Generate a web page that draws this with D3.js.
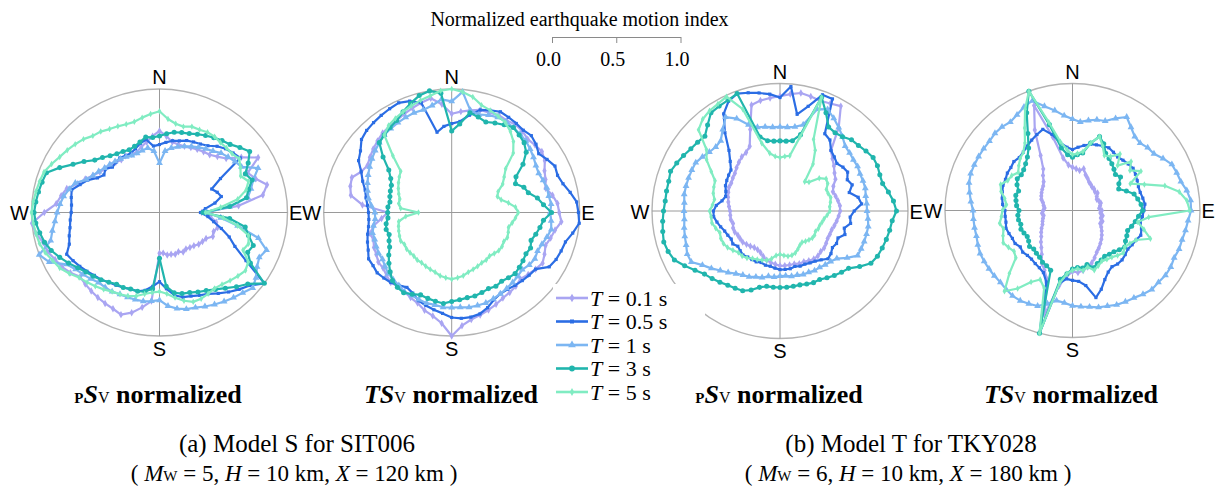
<!DOCTYPE html>
<html>
<head>
<meta charset="utf-8">
<script src="https://cdn.jsdelivr.net/npm/d3@7"></script>
<style>
  html, body { margin: 0; padding: 0; background: #fff; }
  svg { display: block; }
</style>
</head>
<body>
<svg id="chart" width="1219" height="493"></svg>
<script>
// Azimuth of every sample, degrees clockwise from north
const angleDeg = d3.range(0, 360, 5);
const periodLabels = ["0.1", "0.5", "1", "3", "5"];
const scaleTicks = [0, 0.5, 1];

// (a) Model S, SIT006 — pSV normalized
const aPsvT01 = [.66,.62,.58,.57,.57,.58,.59,.60,.61,.64,.68,.78, .89,.76,.80,.87,.82,.62,.33,.40,.45,.47,.45,.46, .42,.41,.40,.38,.37,.36,.37,.35,.36,.35,.35,.33, .33,.72,.78,.84,.88,.86,.85,.84,.83,.82,.81,.85, .88,.90,.93,.94,.98,1.0,.90,.81,.78,.75,.68,.64, .60,.57,.55,.54,.53,.52,.53,.52,.52,.55,.58,.62];
const aPsvT05 = [.55,.57,.59,.60,.62,.63,.64,.66,.70,.73,.75,.77, .55,.45,.48,.50,.44,.36,.32,.38,.43,.50,.58,.65, .78,1.0,.92,.88,.84,.80,.76,.74,.72,.71,.68,.62, .56,.60,.64,.66,.66,.67,.68,.69,.71,.72,.74,.76, .78,.80,.75,.73,.71,.70,.69,.69,.70,.71,.66,.62, .56,.53,.55,.52,.53,.54,.53,.53,.55,.58,.60,.54];
const aPsvT1  = [.40,.50,.53,.55,.57,.59,.61,.63,.65,.68,.70,.72, .74,.85,.78,.74,.70,.55,.37,.48,.62,.80,.89,.86, .88,.92,.95,.92,.90,.88,.86,.84,.82,.81,.79,.76, .71,.72,.73,.73,.73,.73,.74,.74,.74,.76,.78,.80, .84,.95,1.0,.88,.85,.82,.80,.78,.76,.73,.70,.63, .60,.58,.56,.55,.54,.53,.52,.51,.51,.52,.53,.50];
const aPsvT3  = [.62,.64,.66,.67,.68,.70,.72,.74,.76,.78,.82,.86, .80,.74,.77,.72,.69,.55,.34,.55,.68,.72,.78,.76, .82,1.0,.90,.85,.80,.76,.73,.71,.69,.68,.66,.60, .37,.62,.65,.66,.66,.67,.67,.69,.71,.73,.75,.78, .82,.86,.90,.93,.95,.97,.98,.97,.96,.95,.94,.86, .78,.72,.66,.63,.60,.58,.57,.56,.57,.59,.62,.61];
const aPsvT5  = [.82,.76,.73,.72,.74,.74,.75,.75,.74,.74,.74,.76, .73,.70,.74,.70,.62,.48,.36,.50,.62,.72,.74,.72, .80,.82,.80,.78,.76,.75,.76,.77,.77,.74,.70,.66, .64,.65,.67,.70,.72,.73,.74,.76,.78,.80,.82,.86, .90,.92,.95,.97,.98,.99,1.0,.99,.98,.97,.96,.93, .90,.88,.86,.84,.81,.80,.78,.77,.76,.76,.78,.80];

// (a) Model S, SIT006 — TSV normalized
const aTsvT01 = [.80,.82,.84,.86,.86,.87,.86,.87,.86,.84,.85,.86, .84,.80,.78,.76,.80,.83,.84,.86,.82,.80,.78,.80, .82,.80,.78,.76,.78,.79,.80,.82,.84,.86,.88,.92, 1.0,.90,.85,.82,.78,.76,.74,.73,.74,.72,.70,.70, .68,.67,.65,.66,.62,.55,.50,.70,.80,.82,.83,.78, .76,.78,.80,.82,.84,.85,.86,.88,.90,.92,.94,.88];
const aTsvT05 = [.72,.74,.80,.86,.88,.90,.89,.88,.87,.88,.86,.83, .86,.89,.88,.90,.94,.98,.99,1.0,.96,.92,.91,.90, .88,.80,.79,.78,.77,.76,.76,.78,.82,.85,.86,.86, .85,.82,.80,.78,.76,.72,.70,.72,.74,.75,.76,.75, .75,.72,.70,.68,.66,.65,.65,.66,.68,.70,.74,.78, .84,.87,.92,.94,.95,.96,.97,.98,.96,.92,.66,.70];
const aTsvT1  = [.90,.98,.84,.82,.84,.85,.85,.84,.83,.82,.80,.78, .76,.75,.76,.77,.77,.78,.77,.78,.79,.77,.75,.74, .75,.74,.72,.73,.74,.75,.76,.77,.78,.78,.78,.77, .77,.77,.76,.76,.75,.74,.74,.72,.71,.70,.68,.66, .66,.65,.64,.64,.62,.60,.60,.63,.66,.68,.70,.72, .74,.76,.78,.80,.82,.83,.84,.85,.86,.86,.88,.92];
const aTsvT3  = [.66,.72,.82,.80,.78,.80,.82,.84,.82,.80,.76,.68, .58,.55,.60,.62,.68,.72,.78,.72,.70,.68,.66,.68, .67,.68,.69,.70,.69,.68,.69,.68,.69,.70,.70,.71, .72,.74,.73,.72,.71,.73,.75,.74,.72,.68,.64,.60, .56,.54,.52,.53,.52,.50,.50,.50,.49,.50,.51,.52, .55,.60,.70,.80,.82,.84,.86,.90,.94,.98,1.0,.97];
const aTsvT5  = [1.0,.98,.95,.90,.88,.86,.84,.80,.75,.68,.55,.50, .46,.40,.38,.40,.45,.50,.52,.50,.48,.46,.47,.48, .47,.48,.48,.47,.46,.47,.47,.48,.49,.50,.52,.53, .54,.53,.52,.50,.49,.48,.47,.47,.46,.46,.46,.45, .46,.45,.44,.43,.42,.36,.26,.40,.42,.42,.44,.46, .48,.50,.52,.65,.82,.86,.88,.90,.92,.94,.96,.99];

// (b) Model T, TKY028 — pSV normalized
const bPsvT01 = [.90,.92,.94,.93,.92,.93,.95,.80,.62,.58,.55,.52, .50,.46,.44,.45,.46,.47,.47,.46,.45,.44,.43,.43, .43,.44,.45,.45,.46,.46,.45,.44,.44,.43,.43,.43, .43,.42,.41,.40,.38,.36,.35,.35,.36,.37,.38,.38, .38,.39,.39,.38,.39,.39,.39,.40,.41,.42,.43,.44, .44,.45,.46,.48,.50,.52,.53,.56,.68,.86,.88,.89];
const bPsvT05 = [.89,.98,.77,.85,.97,.97,.70,.68,.62,.60,.58,.60, .61,.58,.60,.56,.62,.64,.58,.55,.56,.52,.54,.50, .51,.50,.52,.53,.50,.48,.47,.46,.46,.45,.46,.46, .46,.45,.44,.44,.43,.44,.44,.44,.45,.44,.43,.45, .44,.45,.46,.48,.50,.52,.52,.50,.46,.44,.45,.47, .48,.49,.50,.55,.62,.75,.88,.95,.98,.96,.94,.92];
const bPsvT1  = [.66,.66,.67,.70,.85,.88,.84,.80,.76,.72,.71,.70, .70,.69,.69,.69,.68,.68,.68,.69,.70,.70,.70,.70, .70,.64,.58,.56,.55,.54,.54,.53,.53,.52,.52,.51, .51,.52,.52,.54,.55,.57,.58,.60,.63,.66,.70,.74, .80,.80,.78,.77,.76,.75,.75,.75,.76,.76,.76,.76, .76,.74,.72,.71,.72,.78,.85,.80,.72,.68,.67,.66];
const bPsvT3  = [.55,.55,.56,.62,.95,.85,.76,.75,.76,.79,.80,.82, .84,.84,.83,.83,.86,.89,.91,.88,.87,.86,.85,.84, .82,.76,.70,.68,.66,.64,.62,.62,.61,.60,.60,.60, .60,.60,.60,.62,.66,.69,.70,.71,.73,.75,.77,.81, .86,.91,.93,.94,.93,.92,.91,.90,.90,.90,.91,.89, .87,.85,.84,.83,.88,.94,.95,.96,.98,.60,.56,.55];
const bPsvT5  = [.42,.43,.44,.60,.95,.62,.55,.45,.30,.32,.40,.44, .43,.40,.40,.41,.40,.39,.39,.37,.35,.34,.33,.33, .32,.33,.33,.32,.31,.30,.31,.33,.35,.36,.36,.35, .34,.35,.38,.40,.41,.42,.43,.45,.46,.46,.48,.50, .51,.51,.50,.52,.54,.54,.55,.53,.52,.54,.55,.56, .62,.70,.75,.90,.94,.96,.97,.99,.85,.55,.46,.43];

// (b) Model T, TKY028 — TSV normalized
const bTsvT01 = [.34,.33,.32,.34,.30,.28,.26,.25,.24,.24,.23,.24, .22,.21,.22,.23,.22,.21,.23,.22,.24,.23,.25,.24, .26,.28,.30,.32,.34,.36,.38,.41,.44,.46,.48,.49, .48,.52,.60,.85,.58,.52,.48,.42,.38,.35,.32,.30, .28,.26,.25,.24,.23,.24,.23,.22,.23,.24,.26,.27, .28,.29,.30,.32,.36,.40,.50,.70,.88,.60,.42,.36];
const bTsvT05 = [.48,.50,.52,.54,.55,.56,.57,.56,.55,.56,.57,.58, .57,.56,.55,.55,.56,.57,.56,.55,.54,.56,.57,.55, .54,.53,.54,.55,.55,.54,.56,.60,.66,.71,.60,.56, .55,.54,.58,1.0,.60,.54,.52,.51,.50,.50,.51,.50, .52,.52,.53,.54,.53,.53,.53,.55,.56,.57,.58,.58, .59,.59,.60,.59,.60,.62,.64,.66,.68,.62,.54,.50];
const bTsvT1  = [.72,.70,.72,.74,.75,.80,.85,.80,.76,.75,.77,.78, .82,.86,.87,.88,.91,.93,.93,.91,.90,.89,.89,.88, .89,.89,.88,.88,.86,.84,.83,.82,.80,.79,.77,.76, .75,.73,.72,.76,.80,.81,.82,.82,.81,.80,.80,.80, .80,.80,.79,.78,.78,.78,.78,.80,.82,.84,.85,.85, .85,.85,.85,.86,.86,.85,.87,.90,.92,.85,.80,.75];
const bTsvT3  = [.42,.44,.46,.55,.62,.58,.52,.50,.48,.46,.44,.46, .42,.40,.45,.50,.52,.54,.55,.52,.50,.48,.46,.47, .48,.50,.48,.46,.45,.44,.45,.46,.48,.44,.46,.45, .46,.50,.55,1.0,.50,.48,.47,.45,.44,.43,.44,.42, .41,.42,.43,.42,.43,.43,.42,.44,.45,.46,.45,.48, .50,.49,.50,.52,.55,.60,.70,.85,1.0,.70,.50,.44];
const bTsvT5  = [.44,.45,.47,.55,.62,.56,.50,.52,.58,.50,.60,.55, .62,.50,.60,.75,.85,.90,.92,.60,.52,.58,.65,.55, .52,.50,.52,.50,.48,.47,.46,.48,.50,.46,.48,.46, .47,.50,.58,1.0,.65,.60,.65,.75,.83,.70,.58,.56, .58,.60,.58,.56,.58,.56,.55,.52,.54,.58,.60,.56, .55,.52,.55,.58,.60,.65,.75,.88,1.0,.72,.55,.48];

// ---- styling per period ----
const colors   = ["#a9a5f2", "#2b6de4", "#7cb6f2", "#20b5ad", "#80ecc2"];
const symbols  = [d3.symbolDiamond, d3.symbolSquare, d3.symbolTriangle, d3.symbolCircle, d3.symbolDiamond];
const symSizes = [16, 10, 20, 20, 12];

const panels = [
  { cx: 159.5,  cy: 212.5, rx: 128,   ry: 123.5, series: [aPsvT01, aPsvT05, aPsvT1, aPsvT3, aPsvT5] },
  { cx: 451.7,  cy: 212.5, rx: 128,   ry: 123.5, series: [aTsvT01, aTsvT05, aTsvT1, aTsvT3, aTsvT5] },
  { cx: 780,    cy: 211,   rx: 128,   ry: 127.5, series: [bPsvT01, bPsvT05, bPsvT1, bPsvT3, bPsvT5] },
  { cx: 1072.5, cy: 210.5, rx: 127.5, ry: 127,   series: [bTsvT01, bTsvT05, bTsvT1, bTsvT3, bTsvT5] }
];

const svg = d3.select("#chart");
const serif = "'Liberation Serif', 'Times New Roman', serif";
const sans = "'Liberation Sans', Arial, sans-serif";
const angle = d3.scaleLinear().domain([0, 360]).range([0, 2 * Math.PI]);
const line = d3.line().curve(d3.curveLinearClosed);

panels.forEach(p => {
  const g = svg.append("g").attr("transform", `translate(${p.cx},${p.cy})`);
  const rX = d3.scaleLinear().domain([0, 1]).range([0, p.rx]);
  const rY = d3.scaleLinear().domain([0, 1]).range([0, p.ry]);
  const toXY = (a, r) => [rX(r) * Math.sin(angle(a)), -rY(r) * Math.cos(angle(a))];

  g.append("ellipse")
    .attr("rx", p.rx).attr("ry", p.ry)
    .attr("fill", "none").attr("stroke", "#b4b4b4").attr("stroke-width", 1.4);
  g.append("line").attr("x1", -p.rx).attr("x2", p.rx).attr("y1", 0).attr("y2", 0)
    .attr("stroke", "#9a9a9a").attr("stroke-width", 1);
  g.append("line").attr("x1", 0).attr("x2", 0).attr("y1", -p.ry).attr("y2", p.ry)
    .attr("stroke", "#9a9a9a").attr("stroke-width", 1);

  p.series.forEach((vals, k) => {
    const pts = vals.map((r, i) => toXY(angleDeg[i], r));
    g.append("path")
      .attr("d", line(pts))
      .attr("fill", "none")
      .attr("stroke", colors[k])
      .attr("stroke-width", 2.2)
      .attr("stroke-linejoin", "round");
    g.append("g").selectAll("path")
      .data(pts)
      .join("path")
      .attr("transform", d => `translate(${d[0]},${d[1]})`)
      .attr("d", d3.symbol(symbols[k], symSizes[k]))
      .attr("fill", colors[k]);
  });

  const lab = g.append("g").attr("font-family", sans).attr("font-size", 20).attr("fill", "#000");
  lab.append("text").attr("x", 0).attr("y", -p.ry - 5).attr("text-anchor", "middle").text("N");
  lab.append("text").attr("x", 0).attr("y", p.ry + 19.5).attr("text-anchor", "middle").text("S");
  lab.append("text").attr("x", p.rx + 1.5).attr("y", 7.5).attr("text-anchor", "start").text("E");
  lab.append("text").attr("x", -p.rx - 2.5).attr("y", 7.5).attr("text-anchor", "end").text("W");
});

// ---- colour-scale bar at the top ----
svg.append("text")
  .attr("x", 579.5).attr("y", 26)
  .attr("text-anchor", "middle")
  .attr("font-family", serif).attr("font-size", 20)
  .text("Normalized earthquake motion index");

const scaleX = d3.scaleLinear().domain([0, 1]).range([552, 680.5]);
const scaleAxis = svg.append("g")
  .attr("transform", "translate(0,37)")
  .attr("color", "#8a8a8a")
  .call(d3.axisBottom(scaleX).tickValues(scaleTicks).tickFormat(d3.format(".1f"))
        .tickSize(6).tickSizeOuter(0).tickPadding(9));
scaleAxis.selectAll("text")
  .attr("fill", "#000").attr("dx", -4)
  .attr("font-family", serif).attr("font-size", 20);

// ---- legend ----
const legend = svg.append("g");
legend.append("rect")
  .attr("x", 553).attr("y", 284).attr("width", 152).attr("height", 121)
  .attr("fill", "#fff");
const rowY = d3.scalePoint().domain(periodLabels).range([298, 392]);
periodLabels.forEach((lbl, k) => {
  const y = rowY(lbl);
  legend.append("line").attr("x1", 556).attr("x2", 588).attr("y1", y).attr("y2", y)
    .attr("stroke", colors[k]).attr("stroke-width", 2.6);
  legend.append("path").attr("transform", `translate(572,${y})`)
    .attr("d", d3.symbol(symbols[k], symSizes[k] + 6)).attr("fill", colors[k]);
  const t = legend.append("text").attr("x", 590).attr("y", y + 7.5)
    .attr("font-family", serif).attr("font-size", 22);
  t.append("tspan").attr("font-style", "italic").text("T");
  t.append("tspan").text(` = ${lbl} s`);
});

// ---- panel titles ----
function panelTitle(x, kind) {
  const t = svg.append("text").attr("x", x).attr("y", 403)
    .attr("text-anchor", "middle").attr("font-family", serif)
    .attr("font-weight", "bold").attr("font-size", 26);
  if (kind === "p") {
    t.append("tspan").attr("font-size", 15).text("P");
  } else {
    t.append("tspan").attr("font-style", "italic").text("T");
  }
  t.append("tspan").attr("font-style", "italic").text("S");
  t.append("tspan").attr("font-size", 16).attr("font-weight", "normal").text("V");
  t.append("tspan").text(" normalized");
}
panelTitle(158, "p");
panelTitle(451, "t");
panelTitle(779, "p");
panelTitle(1071, "t");

// ---- case captions ----
function caption(x, title, mw, dist) {
  svg.append("text").attr("x", x).attr("y", 452)
    .attr("text-anchor", "middle").attr("font-family", serif).attr("font-size", 25)
    .text(title);
  const t = svg.append("text").attr("x", x - 3).attr("y", 481)
    .attr("text-anchor", "middle").attr("font-family", serif).attr("font-size", 23);
  t.append("tspan").text("( ");
  t.append("tspan").attr("font-style", "italic").text("M");
  t.append("tspan").attr("font-size", 15).text("W");
  t.append("tspan").text(` = ${mw}, `);
  t.append("tspan").attr("font-style", "italic").text("H");
  t.append("tspan").text(" = 10 km, ");
  t.append("tspan").attr("font-style", "italic").text("X");
  t.append("tspan").text(` = ${dist} km )`);
}
caption(297, "(a) Model S for SIT006", 5, 120);
caption(911, "(b) Model T for TKY028", 6, 180);
</script>
</body>
</html>
